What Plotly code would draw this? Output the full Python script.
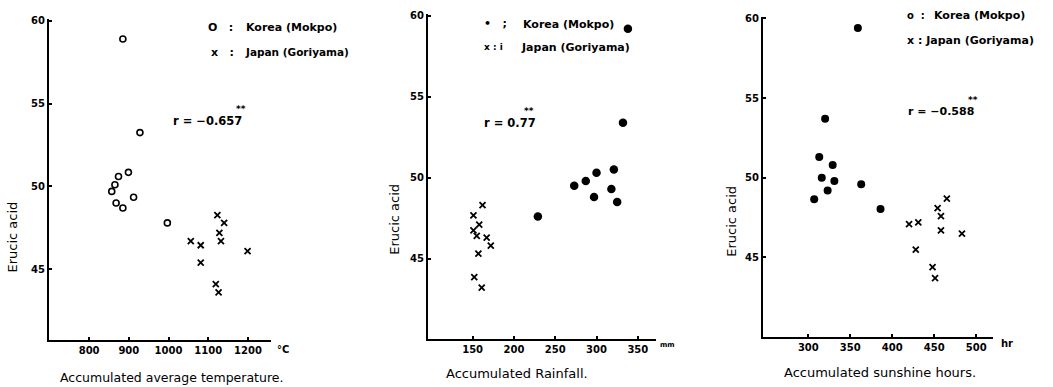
import plotly.graph_objects as go

W, H = 1053, 387

# ---------------- data ----------------
# Panel 1: accumulated average temperature (°C) vs erucic acid
temp_korea = [885, 928, 899, 874, 865, 857, 912, 868, 885, 997]
eru1_korea = [58.9, 53.25, 50.85, 50.6, 50.1, 49.7, 49.35, 49.0, 48.7, 47.8]
temp_japan = [1123, 1140, 1128, 1132, 1056, 1081, 1199, 1081, 1119, 1126]
eru1_japan = [48.27, 47.8, 47.2, 46.7, 46.7, 46.45, 46.1, 45.4, 44.1, 43.6]

# Panel 2: accumulated rainfall (mm) vs erucic acid
rain_korea = [338, 332, 321, 300, 287, 273, 318, 297, 325, 229]
eru2_korea = [59.2, 53.4, 50.5, 50.3, 49.8, 49.5, 49.3, 48.8, 48.5, 47.6]
rain_japan = [162, 151, 158, 151, 155, 167, 172, 157, 152, 161]
eru2_japan = [48.3, 47.67, 47.1, 46.75, 46.4, 46.3, 45.8, 45.3, 43.85, 43.2]

# Panel 3: accumulated sunshine hours vs erucic acid
sun_korea = [359, 320, 313, 329, 316, 331, 363, 323, 307, 386]
eru3_korea = [59.4, 53.7, 51.3, 50.8, 50.0, 49.8, 49.6, 49.2, 48.65, 48.05]
sun_japan = [465, 454, 458, 420, 431, 458, 483, 428, 448, 451]
eru3_japan = [48.7, 48.1, 47.6, 47.1, 47.2, 46.7, 46.5, 45.5, 44.4, 43.7]

temp_ticks = [800, 900, 1000, 1100, 1200]
rain_ticks = [150, 200, 250, 300, 350]
sun_ticks = [300, 350, 400, 450, 500]
eru_ticks = [45, 50, 55, 60]

r_texts = ["r = −0.657", "r = 0.77", "r = −0.588"]

FONT = "DejaVu Sans"

def px(x):
    return x / W

def py(y):
    return 1 - y / H

fig = go.Figure()

# Panel 1
fig.add_trace(go.Scatter(x=temp_korea, y=eru1_korea, mode="markers", xaxis="x", yaxis="y",
                         marker=dict(symbol="circle-open", size=6, color="black", line=dict(width=1.6))))
fig.add_trace(go.Scatter(x=temp_japan, y=eru1_japan, mode="markers", xaxis="x", yaxis="y",
                         marker=dict(symbol="x-thin-open", size=6, color="black", line=dict(width=1.8))))
# Panel 2
fig.add_trace(go.Scatter(x=rain_korea, y=eru2_korea, mode="markers", xaxis="x2", yaxis="y2",
                         marker=dict(symbol="circle", size=8.5, color="black")))
fig.add_trace(go.Scatter(x=rain_japan, y=eru2_japan, mode="markers", xaxis="x2", yaxis="y2",
                         marker=dict(symbol="x-thin-open", size=6, color="black", line=dict(width=1.8))))
# Panel 3
fig.add_trace(go.Scatter(x=sun_korea, y=eru3_korea, mode="markers", xaxis="x3", yaxis="y3",
                         marker=dict(symbol="circle", size=8, color="black")))
fig.add_trace(go.Scatter(x=sun_japan, y=eru3_japan, mode="markers", xaxis="x3", yaxis="y3",
                         marker=dict(symbol="x-thin-open", size=6, color="black", line=dict(width=1.8))))

axis_common = dict(showline=True, linecolor="black", linewidth=2, showgrid=False, zeroline=False,
                   ticks="inside", ticklen=3, tickcolor="black", tickwidth=1.5,
                   tickfont=dict(family=FONT, size=10, color="black", weight="bold"))

layout = dict(
    width=W, height=H, margin=dict(l=0, r=0, t=0, b=0),
    paper_bgcolor="white", plot_bgcolor="white", showlegend=False,
    font=dict(family=FONT, color="black"),
    xaxis=dict(domain=[px(49), px(271)], range=[699, 1258], tickvals=temp_ticks, anchor="y", **axis_common),
    yaxis=dict(domain=[py(340), py(15)], range=[40.7, 60.12], tickvals=eru_ticks, anchor="x", **axis_common),
    xaxis2=dict(domain=[px(428), px(656)], range=[96, 372], tickvals=rain_ticks, anchor="y2", **axis_common),
    yaxis2=dict(domain=[py(339), py(10)], range=[40.0, 60.12], tickvals=eru_ticks, anchor="x2", **axis_common),
    xaxis3=dict(domain=[px(763), px(993)], range=[246, 520], tickvals=sun_ticks, anchor="y3", **axis_common),
    yaxis3=dict(domain=[py(336), py(13)], range=[40.04, 60.1], tickvals=eru_ticks, anchor="x3", **axis_common),
)
fig.update_layout(**layout)

ann = []
def text(x, y, s, size=10, angle=0, xanchor="center", bold=False):
    ann.append(dict(x=px(x), y=py(y), xref="paper", yref="paper", text=s, showarrow=False,
                    font=dict(family=FONT, size=size, color="black", weight="bold" if bold else "normal"),
                    textangle=angle, xanchor=xanchor, yanchor="middle"))

# axis titles
text(13, 236, "Erucic acid", size=13, angle=-90)
text(395, 218, "Erucic acid", size=13, angle=-90)
text(732, 220, "Erucic acid", size=13, angle=-90)
text(171, 377, "Accumulated average temperature.", size=12.5)
text(517, 373, "Accumulated Rainfall.", size=13)
text(880, 372, "Accumulated sunshine hours.", size=13)

# units
text(275, 349, "°C", size=10, xanchor="left", bold=True)
text(658, 345, "mm", size=7, xanchor="left", bold=True)
text(999, 343, "hr", size=10, xanchor="left", bold=True)

# legends
text(206, 24, "O   :", size=11, xanchor="left", bold=True)
text(244, 24, "Korea (Mokpo)", size=11, xanchor="left", bold=True)
text(209, 49, "x   :", size=11, xanchor="left", bold=True)
text(243, 49, "Japan (Goriyama)", size=10.5, xanchor="left", bold=True)

text(482, 20, "•   ;", size=11, xanchor="left", bold=True)
text(521, 21, "Korea (Mokpo)", size=11, xanchor="left", bold=True)
text(482, 43, "x : i", size=9, xanchor="left", bold=True)
text(519, 44, "Japan (Goriyama)", size=11, xanchor="left", bold=True)

text(905, 12, "o  :", size=10, xanchor="left", bold=True)
text(932, 12, "Korea (Mokpo)", size=11, xanchor="left", bold=True)
text(905, 37, "x : Japan (Goriyama)", size=11, xanchor="left", bold=True)

# correlation annotations
text(171, 118, r_texts[0], size=11.5, xanchor="left", bold=True)
text(241, 106, "**", size=9, bold=True)
text(482, 120, r_texts[1], size=11.5, xanchor="left", bold=True)
text(529, 108, "**", size=9, bold=True)
text(906, 109, r_texts[2], size=11, xanchor="left", bold=True)
text(973, 97, "**", size=9, bold=True)

fig.update_layout(annotations=ann)
fig.write_html("out.html", config={"displayModeBar": False},
               post_script="document.body.style.margin='0px';document.body.style.overflow='hidden';")
